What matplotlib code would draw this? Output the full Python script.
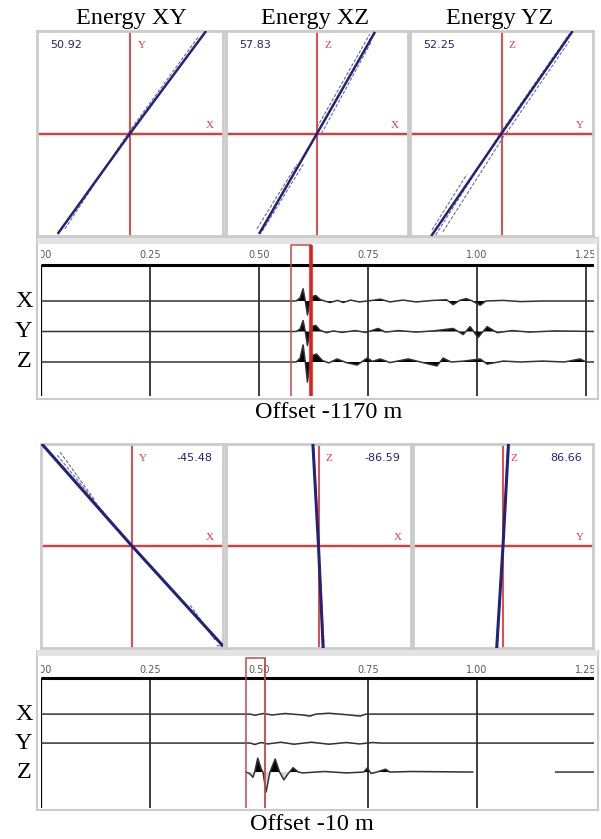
import numpy as np
import matplotlib.pyplot as plt
from matplotlib.patches import Rectangle

W, H = 601, 839

# ---------------- data ----------------
titles = ["Energy XY", "Energy XZ", "Energy YZ"]
pair_names = [("X", "Y"), ("X", "Z"), ("Y", "Z")]
angles_top = ["50.92", "57.83", "52.25"]
angles_bottom = ["-45.48", "-86.59", "86.66"]
offset_labels = ["Offset -1170 m", "Offset -10 m"]
components = ["X", "Y", "Z"]

# hodograms, normalised -1..1 (horizontal comp, vertical comp)
hodo_top_main = [
    ([-0.77, 0.0, 0.81], [-0.97, 0.0, 0.99]),
    ([-0.63, 0.0, 0.63], [-0.97, 0.0, 0.98]),
    ([-0.76, 0.0, 0.77], [-0.99, 0.0, 0.99]),
]
hodo_top_aux = [
    [([-0.70, 0.0, 0.74], [-0.93, 0.03, 0.95])],
    [([-0.66, -0.22], [-0.93, -0.30]), ([-0.60, -0.15], [-0.95, -0.30]),
     ([0.05, 0.60], [0.0, 0.90]), ([0.0, 0.58], [0.06, 0.97])],
    [([-0.76, -0.38], [-0.94, -0.40]), ([-0.64, 0.03], [-0.96, -0.02]),
     ([0.05, 0.74], [0.0, 0.90]), ([-0.72, 0.0, 0.74], [-0.99, 0.02, 0.97])],
]
hodo_bottom_main = [
    ([-0.98, 0.0, 0.99], [0.99, 0.0, -0.97]),
    ([-0.06, 0.0, 0.05], [0.99, 0.0, -1.0]),
    ([0.06, 0.0, -0.07], [0.99, 0.0, -1.0]),
]
hodo_bottom_aux = [
    [([-0.82, -0.24], [0.89, 0.25]), ([-0.79, -0.41], [0.92, 0.45]),
     ([0.64, 0.91], [-0.58, -0.92]), ([0.93, 0.99, 0.97], [-0.98, -0.97, -1.0])],
    [([-0.05, 0.06], [0.95, -0.98])],
    [([0.05, -0.06], [0.95, -0.98])],
]

# seismograms: (time s, amplitude in trace spacings)
tr_top = {
    "X": [(0, 0), (0.585, 0), (0.594, 0.10), (0.601, 0.40), (0.606, 0.0), (0.611, -0.46),
          (0.617, 0.0), (0.623, 0.15), (0.630, 0.18), (0.640, 0.05), (0.650, 0.0),
          (0.663, -0.05), (0.680, 0.02), (0.693, -0.05), (0.710, 0.03), (0.730, -0.03),
          (0.760, 0.02), (0.778, 0.06), (0.800, -0.03), (0.830, 0.03), (0.860, -0.03),
          (0.900, 0.02), (0.930, 0.04), (0.945, -0.12), (0.960, 0.02), (0.975, 0.08),
          (0.989, 0.0), (1.007, -0.14), (1.020, 0.0), (1.060, 0.02), (1.100, -0.02),
          (1.150, 0.0), (1.268, 0.0)],
    "Y": [(0, 0), (0.585, 0), (0.594, 0.08), (0.601, 0.36), (0.606, 0.0), (0.611, -0.46),
          (0.617, 0.0), (0.623, 0.17), (0.630, 0.20), (0.640, 0.04), (0.655, -0.04),
          (0.670, 0.02), (0.690, -0.03), (0.720, 0.03), (0.745, -0.03), (0.773, 0.10),
          (0.790, -0.02), (0.820, 0.03), (0.860, -0.02), (0.900, 0.02), (0.945, 0.10),
          (0.968, -0.10), (0.984, 0.16), (1.002, -0.20), (1.023, 0.16), (1.046, -0.04),
          (1.080, 0.03), (1.120, -0.02), (1.180, 0.02), (1.268, 0.0)],
    "Z": [(0, 0), (0.585, 0), (0.594, 0.12), (0.601, 0.56), (0.606, 0.0), (0.611, -0.66),
          (0.617, 0.0), (0.623, 0.22), (0.632, 0.26), (0.645, 0.05), (0.660, -0.03),
          (0.679, 0.10), (0.700, -0.02), (0.725, -0.10), (0.748, 0.13), (0.760, 0.02),
          (0.778, 0.10), (0.800, -0.02), (0.842, 0.10), (0.870, 0.0), (0.908, -0.13),
          (0.922, 0.13), (0.940, 0.0), (0.970, 0.03), (1.007, 0.10), (1.023, -0.07),
          (1.060, 0.03), (1.100, 0.0), (1.150, 0.03), (1.200, 0.0), (1.236, 0.10),
          (1.250, 0.0), (1.268, 0.0)],
}
tr_bottom = {
    "X": [(0, 0), (0.480, 0), (0.490, -0.04), (0.510, 0.02), (0.530, -0.03), (0.560, 0.02),
          (0.600, -0.03), (0.617, -0.07), (0.630, 0.0), (0.660, 0.03), (0.700, -0.02),
          (0.732, -0.07), (0.745, 0.0), (1.268, 0.0)],
    "Y": [(0, 0), (0.480, 0), (0.490, -0.05), (0.505, 0.02), (0.520, -0.03), (0.550, 0.03),
          (0.580, -0.04), (0.620, 0.03), (0.660, -0.04), (0.700, 0.02), (0.730, -0.03),
          (0.760, 0.02), (0.780, 0.0), (1.268, 0.0)],
    "Z": [(0.470, 0), (0.478, -0.05), (0.486, -0.18), (0.490, 0.0), (0.497, 0.48),
          (0.505, 0.10), (0.509, 0.0), (0.516, -0.69), (0.525, 0.0), (0.537, 0.45),
          (0.547, 0.0), (0.557, -0.27), (0.567, -0.05), (0.578, 0.15), (0.590, 0.0),
          (0.600, -0.03), (0.650, 0.02), (0.700, -0.03), (0.740, 0.0), (0.748, 0.14),
          (0.757, -0.05), (0.770, 0.0), (0.790, 0.10), (0.800, 0.0), (0.850, 0.02),
          (0.990, 0.0), (0.995, None), (1.175, None), (1.180, 0.0), (1.268, 0.0)],
}
tick_pos = [0.0, 0.25, 0.50, 0.75, 1.00, 1.25]
tick_lab = ["0.00", "0.25", "0.50", "0.75", "1.00", "1.25"]
grid_top = [0.25, 0.50, 0.75, 1.00, 1.25]
grid_bottom = [0.25, 0.75, 1.00]
window_top = (0.573, 0.619)
window_bottom = (0.470, 0.514)

# ---------------- drawing ----------------
SERIF = ["Liberation Serif", "DejaVu Serif"]
NAVY = "#22237a"
RED = "#e03a3a"
FRAME = "#cbcbcb"

fig = plt.figure(figsize=(W / 100, H / 100), dpi=100)


def px_axes(x0, y0, x1, y1):
    return fig.add_axes([x0 / W, 1 - y1 / H, (x1 - x0) / W, (y1 - y0) / H])


def hodogram(ax, main, aux, names, angle, top):
    ax.set_xlim(-1, 1)
    ax.set_ylim(-1, 1)
    ax.set_xticks([])
    ax.set_yticks([])
    for s in ax.spines.values():
        s.set_color(FRAME)
        s.set_linewidth(2)
    ax.axhline(0, color=RED, lw=1.7, zorder=1)
    ax.axvline(0, color=RED, lw=1.3, zorder=1)
    for xs, ys in aux:
        ax.plot(xs, ys, color="#6a6a90", lw=0.8, ls=(0, (3, 1.5)), zorder=2)
    ax.plot(main[0], main[1], color=NAVY, lw=1.8 if top else 2.2, zorder=3)
    ax.text(0.54, 0.93, names[1], transform=ax.transAxes, color=RED, fontsize=8,
            family=SERIF, va="center")
    ax.text(0.95, 0.54, names[0], transform=ax.transAxes, color=RED, fontsize=8,
            family=SERIF, ha="right", va="center")
    if top:
        ax.text(0.07, 0.93, angle, transform=ax.transAxes, color=NAVY, fontsize=8,
                va="center")
    else:
        ax.text(0.94, 0.93, angle, transform=ax.transAxes, color=NAVY, fontsize=8,
                va="center", ha="right")


top_cols = [(37, 223), (226, 408), (410, 593)]
bot_cols = [(41, 223), (226, 411), (413, 593)]
for i in range(3):
    ax = px_axes(top_cols[i][0], 31, top_cols[i][1], 236)
    hodogram(ax, hodo_top_main[i], hodo_top_aux[i], pair_names[i], angles_top[i], True)
    fig.text(sum(top_cols[i]) / 2 / W + (0.003 if i == 0 else -0.003), 1 - 24 / H,
             titles[i], ha="center", va="baseline", fontsize=17.5, family=SERIF)
    ax = px_axes(bot_cols[i][0], 444, bot_cols[i][1], 648)
    hodogram(ax, hodo_bottom_main[i], hodo_bottom_aux[i], pair_names[i],
             angles_bottom[i], False)


def seismogram(ax, traces, ylim, header_y, label_y, grid, window, neg_fill, thick_right):
    tmax = 1.268
    ax.set_xlim(0, tmax)
    ax.set_ylim(*ylim)
    ax.axis("off")
    ax.vlines(grid, ylim[0], header_y, color="#2e2e2e", lw=1.3, zorder=1)
    ax.vlines([0], ylim[0], header_y, color="black", lw=1.6, zorder=1)
    ax.hlines([header_y], 0, tmax, color="black", lw=2.2, zorder=4)
    for k, name in enumerate(components):
        base = 3 - k
        t = np.array([p[0] for p in traces[name]], float)
        a = np.array([np.nan if p[1] is None else p[1] for p in traces[name]], float)
        y = base + a
        ax.fill_between(t, base, y, where=a > 0, interpolate=True, color="black",
                        lw=0, zorder=3)
        ax.fill_between(t, base, y, where=a < 0, interpolate=True, color=neg_fill,
                        lw=0, zorder=3)
        ax.plot(t, y, color="#333333", lw=1.1, zorder=3)
        ax.text(-0.031, base, name, transform=ax.get_yaxis_transform(), ha="center",
                va="center", fontsize=17.5, family=SERIF)
    for tp, tl in zip(tick_pos, tick_lab):
        ax.text(tp, label_y, tl, ha="center", va="center", fontsize=7,
                color="#5a5a5a", clip_on=True)
    ytop = ylim[1] - 0.03
    ax.plot([window[0], window[0], window[1]], [ylim[0], ytop, ytop],
            color="#c8464b", lw=1.1, zorder=5)
    ax.vlines([window[1]], ylim[0], ytop, color="#e01e1e" if thick_right else "#c8464b",
              lw=2.6 if thick_right else 1.3, zorder=5)


def frame(y0, y1, band0):
    fig.patches.append(Rectangle((37 / W, 1 - y1 / H), (598 - 37) / W, (y1 - y0) / H,
                                 transform=fig.transFigure, fill=False,
                                 edgecolor=FRAME, lw=1.5))
    fig.patches.append(Rectangle((37 / W, 1 - (band0 + 6) / H), (598 - 37) / W, 6 / H,
                                 transform=fig.transFigure, facecolor="#e4e4e4",
                                 edgecolor="none"))


frame(238, 399, 238)
frame(651, 810, 650)

ax = px_axes(41, 244, 594, 396)
seismogram(ax, tr_top, (-0.115, 4.869), 4.18, 4.51, grid_top, window_top,
           "black", True)
ax = px_axes(41, 657, 594, 808)
seismogram(ax, tr_bottom, (-0.24, 4.97), 4.24, 4.52, grid_bottom, window_bottom,
           "#d6d6d6", False)

fig.text(329 / W, 1 - 418 / H, offset_labels[0], ha="center", va="baseline",
         fontsize=17.5, family=SERIF)
fig.text(312 / W, 1 - 830 / H, offset_labels[1], ha="center", va="baseline",
         fontsize=17.5, family=SERIF)

fig.savefig("out.png", dpi=100)
